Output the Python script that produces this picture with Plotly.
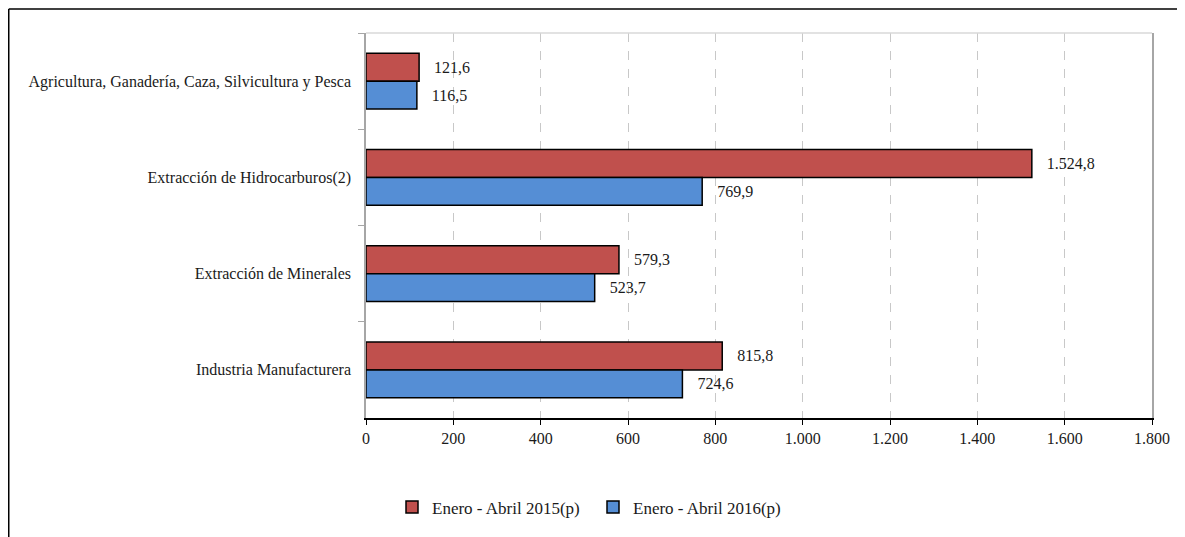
import plotly.graph_objects as go

categories = [
    "Agricultura, Ganadería, Caza, Silvicultura y Pesca",
    "Extracción de Hidrocarburos(2)",
    "Extracción de Minerales",
    "Industria Manufacturera",
]
series_names = ["Enero - Abril 2015(p)", "Enero - Abril 2016(p)"]
values_2015 = [121.6, 1524.8, 579.3, 815.8]
values_2016 = [116.5, 769.9, 523.7, 724.6]
tick_values = [0, 200, 400, 600, 800, 1000, 1200, 1400, 1600, 1800]

# page has an 8px body margin: figure coords = page coords - 8
OFF = 8
W, H = 1185 - OFF, 537 - OFF
L, R, T, B = 366 - OFF, 1152 - OFF, 33 - OFF, 420 - OFF
pw, ph = R - L, B - T

def px_x(p):
    return (p - OFF - L) / pw

def px_y(p):
    return (B - (p - OFF)) / ph

FONT = "Liberation Serif"
FS = 16
colors = ["#C0504D", "#558ED5"]

fig = go.Figure()
for name, vals, col in zip(series_names, [values_2015, values_2016], colors):
    fig.add_trace(go.Bar(
        y=categories, x=vals, name=name, orientation="h",
        marker=dict(color=col, line=dict(color="#000000", width=1.5)),
        texttemplate="   %{x:,.1f}", textposition="outside",
        textfont=dict(family=FONT, size=FS, color="#1a1a1a"),
        cliponaxis=False,
    ))

fig.update_layout(
    width=W, height=H,
    margin=dict(l=L, r=W - R, t=T, b=H - B),
    barmode="group", bargap=0.42, bargroupgap=0.0,
    separators=",.",
    plot_bgcolor="white", paper_bgcolor="white",
    font=dict(family=FONT, size=FS, color="#1a1a1a"),
    legend=dict(orientation="h", x=px_x(593), y=px_y(510), xanchor="center", yanchor="middle",
                font=dict(family=FONT, size=17, color="#1a1a1a"), traceorder="normal",
                itemwidth=30, entrywidth=156),
    showlegend=True,
    xaxis=dict(range=[0, 1800], tickvals=tick_values, tickformat=",d",
               showgrid=True, gridcolor="#c8c8c8", griddash="dash", gridwidth=1,
               showline=True, linecolor="#000000", linewidth=1.5,
               ticks="outside", ticklen=5, tickcolor="#000000", zeroline=False,
               tickfont=dict(family=FONT, size=FS)),
    yaxis=dict(autorange="reversed", type="category", tickson="boundaries",
               showline=True, linecolor="#a6a6a6", linewidth=1.5, mirror=True,
               ticks="outside", ticklen=6, tickcolor="#a6a6a6", showgrid=False,
               ticklabelstandoff=10,
               tickfont=dict(family=FONT, size=FS)),
)

# plot top border (light gray)
fig.add_shape(type="line", xref="paper", yref="paper", x0=0, x1=1, y0=1, y1=1,
              line=dict(color="#d9d9d9", width=1.5))
# outer frame lines
fig.add_shape(type="line", xref="paper", yref="paper", x0=px_x(8.75), x1=px_x(1200), y0=px_y(8.75), y1=px_y(8.75),
              line=dict(color="#000000", width=1.5))
fig.add_shape(type="line", xref="paper", yref="paper", x0=px_x(8.75), x1=px_x(8.75), y0=px_y(8.75), y1=px_y(560),
              line=dict(color="#000000", width=1.5))

fig.write_html("out.html")
